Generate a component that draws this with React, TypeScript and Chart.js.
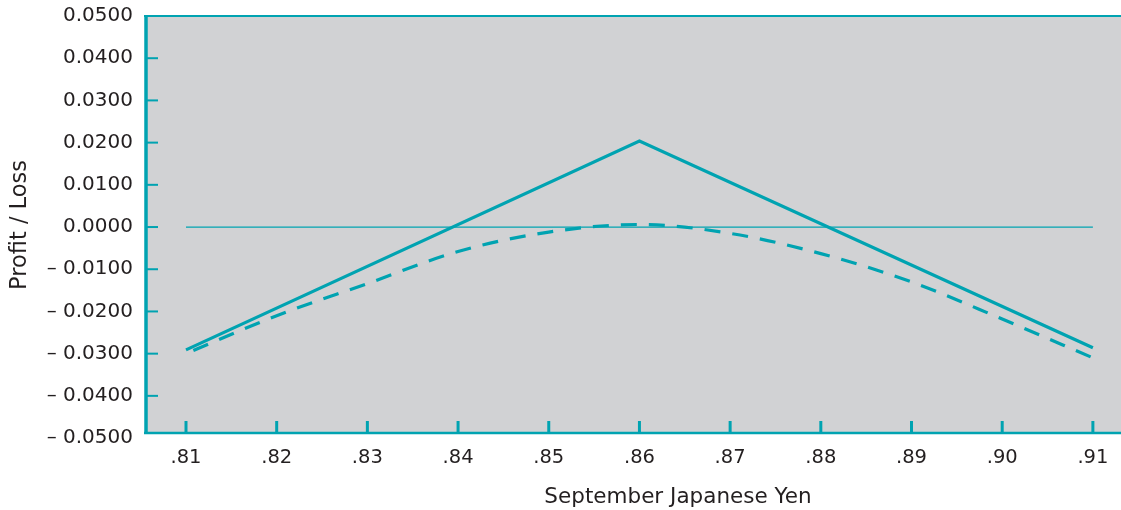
import React, { useEffect, useRef } from "react";
import { Chart, registerables } from "chart.js";

Chart.register(...registerables);

// ---- data ----
const xTickValues = [0.81, 0.82, 0.83, 0.84, 0.85, 0.86, 0.87, 0.88, 0.89, 0.9, 0.91];
const xTickLabels = [".81", ".82", ".83", ".84", ".85", ".86", ".87", ".88", ".89", ".90", ".91"];
const yTickValues = [0.05, 0.04, 0.03, 0.02, 0.01, 0, -0.01, -0.02, -0.03, -0.04, -0.05];
const yTickLabels = ["0.0500", "0.0400", "0.0300", "0.0200", "0.0100", "0.0000", "– 0.0100", "– 0.0200", "– 0.0300", "– 0.0400", "– 0.0500"];

const solidX = [0.81, 0.86, 0.91];
const solidY = [-0.0291, 0.0204, -0.0286];

const dashedX = [0.81, 0.82, 0.83, 0.84, 0.85, 0.86, 0.87, 0.88, 0.89, 0.9, 0.91];
const dashedY = [-0.03, -0.021, -0.0134, -0.0058, -0.0012, 0.0006, -0.0015, -0.0063, -0.013, -0.0218, -0.031];

const zeroX = [0.81, 0.91];
const zeroY = [0, 0];

const xTitle = "September Japanese Yen";
const yTitle = "Profit / Loss";

const TEAL = "#00a3b1";
const BG = "#d1d2d4";
const TEXT = "#231f20";
const FONT = "DejaVu Sans";

export default function App() {
  const ref = useRef<HTMLCanvasElement | null>(null);

  useEffect(() => {
    if (!ref.current) return;
    const pts = (xs: number[], ys: number[]) => xs.map((x, i) => ({ x, y: ys[i] }));

    const decor = {
      id: "decor",
      beforeDraw(chart: any) {
        const { ctx, chartArea: a } = chart;
        ctx.save();
        ctx.fillStyle = BG;
        ctx.fillRect(a.left, a.top, a.right - a.left, a.bottom - a.top);
        ctx.restore();
      },
      afterDraw(chart: any) {
        const { ctx, chartArea: a, scales } = chart;
        const xs = scales.x;
        const ys = scales.y;
        ctx.save();
        ctx.strokeStyle = TEAL;
        // top border
        ctx.lineWidth = 2;
        ctx.beginPath();
        ctx.moveTo(a.left - 3, a.top);
        ctx.lineTo(a.right, a.top);
        ctx.stroke();
        // bottom axis
        ctx.lineWidth = 2.5;
        ctx.beginPath();
        ctx.moveTo(a.left - 3, a.bottom);
        ctx.lineTo(a.right, a.bottom);
        ctx.stroke();
        // left axis
        ctx.lineWidth = 3.5;
        ctx.beginPath();
        ctx.moveTo(a.left - 1, a.top - 1);
        ctx.lineTo(a.left - 1, a.bottom + 1);
        ctx.stroke();
        // inward y ticks
        ctx.lineWidth = 2;
        yTickValues.forEach((v) => {
          const py = ys.getPixelForValue(v);
          if (py < a.top + 3 || py > a.bottom - 3) return;
          ctx.beginPath();
          ctx.moveTo(a.left, py);
          ctx.lineTo(a.left + 11, py);
          ctx.stroke();
        });
        // inward x ticks
        ctx.lineWidth = 3;
        xTickValues.forEach((v) => {
          const px = xs.getPixelForValue(v);
          ctx.beginPath();
          ctx.moveTo(px, a.bottom);
          ctx.lineTo(px, a.bottom - 12);
          ctx.stroke();
        });
        // titles
        ctx.fillStyle = TEXT;
        ctx.textAlign = "center";
        ctx.textBaseline = "middle";
        ctx.font = `21.5px "${FONT}"`;
        ctx.fillText(xTitle, 678, 497);
        ctx.font = `22.5px "${FONT}"`;
        ctx.translate(20, 225);
        ctx.rotate(-Math.PI / 2);
        ctx.fillText(yTitle, 0, 0);
        ctx.restore();
      },
    };

    const chart = new Chart(ref.current, {
      type: "line",
      data: {
        datasets: [
          {
            data: pts(zeroX, zeroY),
            borderColor: TEAL,
            borderWidth: 1.2,
            pointRadius: 0,
          },
          {
            data: pts(dashedX, dashedY),
            borderColor: TEAL,
            borderWidth: 3.2,
            borderDash: [16, 12],
            borderDashOffset: -8,
            borderCapStyle: "butt",
            pointRadius: 0,
            cubicInterpolationMode: "monotone",
          },
          {
            data: pts(solidX, solidY),
            borderColor: TEAL,
            borderWidth: 3.2,
            pointRadius: 0,
            tension: 0,
          },
        ],
      },
      options: {
        animation: false,
        responsive: false,
        layout: { padding: { top: 16, left: 0, right: 0, bottom: 0 } },
        plugins: { legend: { display: false }, tooltip: { enabled: false } },
        scales: {
          x: {
            type: "linear",
            min: 0.8057,
            max: 0.9131,
            bounds: "data",
            grid: { display: false, drawTicks: false },
            border: { display: false },
            afterBuildTicks: (s: any) => {
              s.ticks = xTickValues.map((v) => ({ value: v }));
            },
            afterFit: (s: any) => {
              s.height = 77;
              s.paddingLeft = 0;
              s.paddingRight = 0;
            },
            ticks: {
              autoSkip: false,
              maxRotation: 0,
              padding: 13,
              color: TEXT,
              font: { family: FONT, size: 19.5 },
              callback: (v: any) => {
                const i = xTickValues.findIndex((t) => Math.abs(t - v) < 1e-9);
                return i >= 0 ? xTickLabels[i] : "";
              },
            },
          },
          y: {
            type: "linear",
            min: -0.0488,
            max: 0.05,
            bounds: "data",
            grid: { display: false, drawTicks: false },
            border: { display: false },
            afterBuildTicks: (s: any) => {
              s.ticks = yTickValues.map((v) => ({ value: v }));
            },
            afterFit: (s: any) => {
              s.width = 147;
              s.paddingTop = 0;
              s.paddingBottom = 0;
            },
            ticks: {
              autoSkip: false,
              padding: 14,
              color: TEXT,
              font: { family: FONT, size: 20 },
              callback: (v: any) => {
                const i = yTickValues.findIndex((t) => Math.abs(t - v) < 1e-9);
                return i >= 0 ? yTickLabels[i] : "";
              },
            },
          },
        },
      },
      plugins: [decor],
    });
    return () => chart.destroy();
  }, []);

  return (
    <div style={{ position: "fixed", left: 0, top: 0, width: 1121, height: 510, background: "#fff" }}>
      <canvas ref={ref} width={1121} height={510} style={{ display: "block" }} />
    </div>
  );
}
